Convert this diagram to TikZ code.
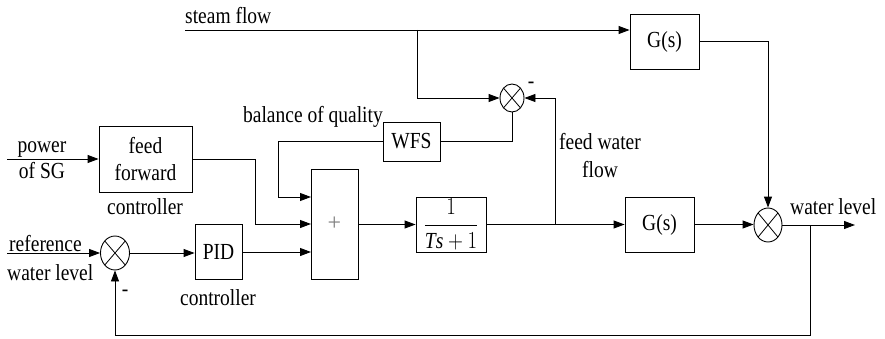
\documentclass[tikz,border=0pt]{standalone}
\usepackage{fontspec}
\usepackage{graphicx}
\setmainfont{Liberation Serif}
\usetikzlibrary{arrows.meta,shapes.geometric,calc}
\newcommand{\vs}[1]{\scalebox{1}[1.18]{#1}}
\tikzset{
  blk/.style={draw,line width=0.9pt,minimum width=#1,inner sep=0pt},
  sumnode/.style={draw,ellipse,line width=0.9pt,inner sep=0pt,
    path picture={
      \draw[line width=0.8pt] (path picture bounding box.south west)++(0.15*\pgfkeysvalueof{/pgf/minimum width},0.15*\pgfkeysvalueof{/pgf/minimum height}) -- ($(path picture bounding box.north east)-(0.15*\pgfkeysvalueof{/pgf/minimum width},0.15*\pgfkeysvalueof{/pgf/minimum height})$);
      \draw[line width=0.8pt] ($(path picture bounding box.north west)+(0.15*\pgfkeysvalueof{/pgf/minimum width},-0.15*\pgfkeysvalueof{/pgf/minimum height})$) -- ($(path picture bounding box.south east)+(-0.15*\pgfkeysvalueof{/pgf/minimum width},0.15*\pgfkeysvalueof{/pgf/minimum height})$);
    }},
  ln/.style={line width=0.9pt},
  arr/.style={line width=0.9pt,-{Triangle[length=11pt,width=8pt]}},
  lbl/.style={inner sep=0pt,font=\fontsize{19.5}{21}\selectfont},
  every node/.style={font=\fontsize{19.5}{21}\selectfont}
}
\begin{document}
\begin{tikzpicture}[x=1pt,y=-1pt]
\useasboundingbox (0,0) rectangle (885,339);
% blocks
\node[blk=69pt,minimum height=55pt] (G1) at (664.5,41.5) {\vs{G(s)}};
\node[blk=57pt,minimum height=39pt] (WFS) at (411.5,141.5) {\vs{WFS}};
\node[blk=47pt,minimum height=110pt] (plus) at (334.5,224) {\textcolor{gray}{\fontsize{24}{24}\selectfont +}};
\node[blk=93pt,minimum height=66pt,align=center,font=\fontsize{19.5}{27}\selectfont] (ff) at (145.5,159) {\vs{feed}\\\vs{forward}};
\node[blk=47pt,minimum height=55pt] (PID) at (218.5,251.5) {\vs{PID}};
\node[blk=70pt,minimum height=55pt] (tf) at (451,224.5) {\vs{$\displaystyle\frac{1}{\mathit{Ts}+1}$}};
\node[blk=69pt,minimum height=55pt] (G2) at (659.5,224.5) {\vs{G(s)}};
% summing junctions
\node[sumnode,minimum width=24pt,minimum height=28pt] (sum1) at (512,98) {};
\node[sumnode,minimum width=28pt,minimum height=34pt] (sum2) at (768,225) {};
\node[sumnode,minimum width=29pt,minimum height=34pt] (sum3) at (115,253) {};
% coordinates
\coordinate (steam) at (185,30);
\coordinate (br1) at (417,30);
\coordinate (br2) at (555,224.5);
\coordinate (br3) at (810,225);
\coordinate (out) at (855,225);
\coordinate (refin) at (7,253);
\coordinate (powin) at (7,159);
\coordinate (pin1) at (311,197);
\coordinate (pin2) at (311,224);
\coordinate (pin3) at (311,252);
\coordinate (ffturn) at (255,159);
\coordinate (fbbot) at (810,335);
% connectors
\draw[arr] (steam) -- (steam -| G1.west);
\draw[arr] (br1) |- (sum1.west);
\draw[arr] (br2) |- (sum1.east);
\draw[ln] (sum1.south) |- (WFS.east);
\draw[arr] (WFS.west) -| ([xshift=-33pt]pin1) -- (pin1);
\draw[arr] (ff.east) -- (ffturn) |- (pin2);
\draw[arr] (PID.east |- pin3) -- (pin3);
\draw[arr] (plus.east |- tf) -- (tf.west);
\draw[arr] (tf.east) -- (G2.west);
\draw[arr] (G2.east) -- (sum2.west |- G2.east);
\draw[arr] (G1.east) -| (sum2.north);
\draw[arr] (sum2.east) -- (out);
\draw[arr] (br3) -- (fbbot) -| (sum3.south);
\draw[arr] (refin) -- (sum3.west);
\draw[arr] (sum3.east) -- (sum3.east -| PID.west);
\draw[arr] (powin) -- (ff.west |- powin);
% labels
\node[lbl,anchor=west] (tsteam) at (185,16) {\vs{steam flow}};
\node[lbl,anchor=east] (tbal) at (383,117) {\vs{balance of quality}};
\node[lbl,align=center,font=\fontsize{19.5}{28}\selectfont] (tfwf) at (600,156) {\vs{feed water}\\\vs{flow}};
\node[lbl,anchor=west] (twl) at (790,207) {\vs{water level}};
\node[lbl,align=center,font=\fontsize{19.5}{26}\selectfont] (tpow) at (42,160) {\vs{power}\\\vs{of SG}};
\node[lbl,anchor=west] (tref) at (9,244) {\vs{reference}};
\node[lbl,anchor=west] (twl2) at (7,273) {\vs{water level}};
\node[lbl] (tffc) at (145,207) {\vs{controller}};
\node[lbl] (tpidc) at (218,298) {\vs{controller}};
\node[lbl,font=\bfseries\fontsize{19.5}{21}\selectfont] (m1) at (531,85) {-};
\node[lbl,font=\bfseries\fontsize{19.5}{21}\selectfont] (m2) at (125,293) {-};
\end{tikzpicture}
\end{document}
